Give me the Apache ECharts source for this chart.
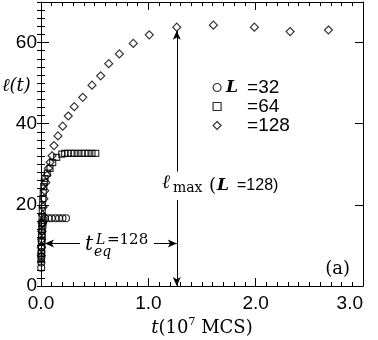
<!DOCTYPE html>
<html>
<head>
<meta charset="utf-8">
<script src="https://cdn.jsdelivr.net/npm/echarts@6/dist/echarts.min.js"></script>
<style>
html,body{margin:0;padding:0;background:#fff;}
#c{width:378px;height:340px;}
</style>
</head>
<body>
<div id="c"></div>
<script>
// ---- data (t in 10^7 MCS, l = ell(t)) ----
var seriesNames = ['L=32', 'L=64', 'L=128'];
var legendLabels = ['=32', '=64', '=128'];
var xTickLabels = ['0.0', '1.0', '2.0', '3.0'];
var yTickLabels = ['0', '20', '40', '60'];

var t32 = [0.002,0.003,0.004,0.005,0.006,0.007,0.009,0.011,0.014,0.018,0.024,0.037,0.07,0.10,0.135,0.168,0.20,0.233];
var l32 = [4.5,5.8,7.1,8.4,9.7,11.0,12.3,13.5,14.6,15.5,16.2,16.6,16.7,16.7,16.7,16.7,16.7,16.7];

var t64 = [0.002,0.003,0.004,0.005,0.006,0.007,0.008,0.010,0.012,0.014,0.017,0.021,0.026,0.031,0.037,0.059,0.084,0.109,0.146,0.193,0.22,0.25,0.28,0.31,0.345,0.38,0.41,0.44,0.475,0.51];
var l64 = [6.5,8.0,9.5,11.0,12.5,14.0,15.5,17.0,18.5,20.0,21.5,23.0,24.5,25.6,26.5,27.8,29.0,30.4,31.7,32.5,32.7,32.7,32.7,32.7,32.7,32.7,32.7,32.7,32.7,32.7];

var t128 = [0.003,0.004,0.006,0.008,0.011,0.015,0.020,0.027,0.035,0.045,0.055,0.07,0.085,0.103,0.121,0.158,0.202,0.254,0.310,0.389,0.475,0.556,0.631,0.730,0.860,1.009,1.265,1.606,1.988,2.321,2.678];
var l128 = [7.5,9.5,11.5,13.5,15.5,17.5,19.5,21.5,23.5,25.5,27.3,29.0,30.5,32.1,34.6,37.0,39.4,41.9,44.2,46.5,49.5,51.8,54.8,57.2,59.8,61.9,63.8,64.3,63.8,62.7,63.1];

// annotation anchors (data coordinates)
var tEq = 1.265;       // t_eq for L=128
var lMaxArrowTop = 62.9;
var lArrowY = 10.5;

function pairs(t, l) { return t.map(function (v, i) { return [v, l[i]]; }); }

var chart = echarts.init(document.getElementById('c'), null, {renderer: 'canvas'});
var black = '#000';
var sans = '"Liberation Sans", Arial, Helvetica, sans-serif';
var serif = '"DejaVu Serif", "Liberation Serif", serif';

function markerStyle() {
  return {color: 'rgba(0,0,0,0)', borderColor: '#000', borderWidth: 1.2};
}

function majorX(pos, showLabel) {
  return {
    type: 'value', position: pos, min: 0, max: 3, interval: 1,
    axisLine: {show: true, onZero: false, lineStyle: {color: black, width: 1}},
    axisTick: {show: true, inside: true, length: 8, lineStyle: {color: black}},
    minorTick: {show: true, splitNumber: 10, length: 4, lineStyle: {color: black}},
    splitLine: {show: false}, minorSplitLine: {show: false},
    axisLabel: {
      show: showLabel, color: black, fontSize: 19, fontFamily: sans, margin: 8,
      alignMaxLabel: 'right',
      formatter: function (v) { var i = Math.round(v); return xTickLabels[i] || ''; }
    }
  };
}
function majorY(pos, showLabel) {
  return {
    type: 'value', position: pos, min: 0, max: 70, interval: 20,
    axisLine: {show: true, onZero: false, lineStyle: {color: black, width: 1}},
    axisTick: {show: true, inside: true, length: 8, lineStyle: {color: black}},
    splitLine: {show: false},
    axisLabel: {
      show: showLabel, color: black, fontSize: 19, fontFamily: sans, margin: 4,
      showMaxLabel: false,
      formatter: function (v) { var i = Math.round(v / 20); return (v % 20 === 0 && yTickLabels[i]) ? yTickLabels[i] : ''; }
    }
  };
}
function minorY(pos) {
  return {
    type: 'value', position: pos, min: 0, max: 70, interval: 2,
    axisLine: {show: false},
    axisTick: {show: true, inside: true, length: 4, lineStyle: {color: black}},
    splitLine: {show: false},
    axisLabel: {show: false}
  };
}

var option = {
  animation: false,
  backgroundColor: '#fff',
  grid: {left: 41, right: 15, top: 2, bottom: 54, containLabel: false},
  xAxis: [majorX('bottom', true), majorX('top', false)],
  yAxis: [majorY('left', true), minorY('left'), majorY('right', false), minorY('right')],
  legend: {
    orient: 'vertical', left: 212.5, top: 78, padding: 0,
    itemWidth: 8, itemHeight: 8, itemGap: 0,
    data: seriesNames,
    selectedMode: false,
    itemStyle: {borderWidth: 1.2, borderColor: '#000', color: 'rgba(0,0,0,0)'},
    textStyle: {
      fontSize: 19, lineHeight: 14, fontFamily: sans, color: black,
      rich: {
        L: {fontFamily: serif, fontStyle: 'italic', fontWeight: 'bold', fontSize: 17, width: 21, lineHeight: 14, color: black},
        v: {fontFamily: sans, fontSize: 19, lineHeight: 14, color: black}
      }
    },
    formatter: function (name) {
      var i = seriesNames.indexOf(name);
      return (i === 0 ? '{L|L}' : '{L| }') + '{v|' + legendLabels[i] + '}';
    }
  },
  series: [
    {
      name: seriesNames[0], type: 'scatter', symbol: 'circle', symbolSize: 7,
      data: pairs(t32, l32), itemStyle: markerStyle(), emphasis: {disabled: true}, z: 3
    },
    {
      name: seriesNames[1], type: 'scatter', symbol: 'rect', symbolSize: 6,
      data: pairs(t64, l64), itemStyle: markerStyle(), emphasis: {disabled: true}, z: 3
    },
    {
      name: seriesNames[2], type: 'scatter', symbol: 'diamond', symbolSize: 8,
      data: pairs(t128, l128), itemStyle: markerStyle(), emphasis: {disabled: true}, z: 3,
      markLine: {
        silent: true, animation: false,
        symbolSize: [6, 9],
        lineStyle: {color: black, width: 1, type: 'solid'},
        label: {show: false},
        emphasis: {disabled: true},
        data: [
          [{coord: [tEq, lMaxArrowTop], symbol: 'arrow'}, {coord: [tEq, 28.2], symbol: 'none'}],
          [{coord: [tEq, 21.2], symbol: 'none'}, {coord: [tEq, 0], symbol: 'arrow'}],
          [{coord: [0.037, lArrowY], symbol: 'arrow'}, {coord: [0.363, lArrowY], symbol: 'none'}],
          [{coord: [1.053, lArrowY], symbol: 'none'}, {coord: [tEq, lArrowY], symbol: 'arrow'}]
        ]
      }
    }
  ],
  graphic: [
    // y axis title  l(t)
    {type: 'text', left: 2, top: 77, style: {text: 'ℓ(t)', font: 'italic 18px ' + serif, fill: black}},
    // x axis title
    {type: 'text', x: 202, y: 327, style: {
      text: '{i|t}{n|(10}{s|7}{n| MCS)}', align: 'center', verticalAlign: 'middle', fill: black,
      rich: {
        i: {fontFamily: serif, fontStyle: 'italic', fontSize: 18, lineHeight: 20, verticalAlign: 'bottom'},
        n: {fontFamily: serif, fontSize: 18, lineHeight: 20, verticalAlign: 'bottom'},
        s: {fontFamily: serif, fontSize: 11, lineHeight: 20, verticalAlign: 'top'}
      }
    }},
    // (a)
    {type: 'text', x: 350, y: 269, style: {text: '(a)', font: '18px ' + serif, fill: black, align: 'right', verticalAlign: 'middle'}},
    // l_max (L =128)
    {type: 'text', x: 162, y: 183, style: {text: 'ℓ', font: 'italic 19px ' + serif, fill: black, verticalAlign: 'middle'}},
    {type: 'text', x: 173, y: 188, style: {text: 'max', font: '14px ' + serif, fill: black, verticalAlign: 'middle'}},
    {type: 'text', x: 209, y: 186, style: {text: '(', font: '18px ' + serif, fill: black, verticalAlign: 'middle'}},
    {type: 'text', x: 217, y: 186, style: {text: 'L', font: 'italic bold 17px ' + serif, fill: black, verticalAlign: 'middle'}},
    {type: 'text', x: 237, y: 186, style: {text: '=128)', font: '16px ' + sans, fill: black, verticalAlign: 'middle'}},
    // t_eq^{L=128}
    {type: 'text', x: 85, y: 245, style: {text: 't', font: 'italic 20px ' + serif, fill: black, verticalAlign: 'middle'}},
    {type: 'text', x: 94, y: 252, style: {text: 'eq', font: 'italic 14px ' + serif, fill: black, verticalAlign: 'middle'}},
    {type: 'text', x: 96, y: 240, style: {text: 'L', font: 'italic 14px ' + serif, fill: black, verticalAlign: 'middle'}},
    {type: 'text', x: 107, y: 240, style: {text: '=128', font: '15px ' + serif, fill: black, verticalAlign: 'middle'}}
  ]
};
chart.setOption(option);
</script>
</body>
</html>
